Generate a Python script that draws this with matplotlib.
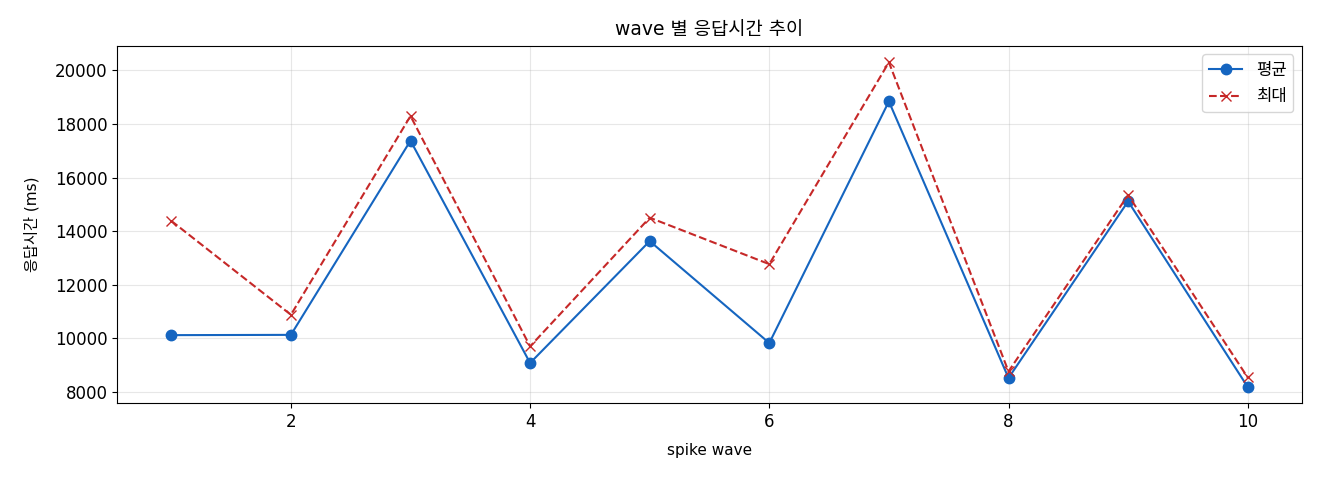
import matplotlib
matplotlib.use("Agg")
import matplotlib.pyplot as plt

plt.rcParams['font.family'] = ['DejaVu Sans', 'Noto Sans CJK KR']

waves = [1, 2, 3, 4, 5, 6, 7, 8, 9, 10]
avg_ms = [10120, 10130, 17380, 9080, 13630, 9825, 18845, 8520, 15115, 8185]
max_ms = [14385, 10880, 18300, 9700, 14505, 12770, 20305, 8765, 15350, 8540]

fig, ax = plt.subplots(figsize=(13.2, 4.8), dpi=100)
ax.plot(waves, avg_ms, marker='o', markersize=7.5, linestyle='-', color='#1565C0', label='평균')
ax.plot(waves, max_ms, marker='x', markersize=7.5, linestyle='--', color='#C62828', label='최대')
ax.set_title('wave 별 응답시간 추이', fontsize=13.5, pad=8)
ax.set_xlabel('spike wave', fontsize=11, labelpad=9)
ax.set_ylabel('응답시간 (ms)', fontsize=11, labelpad=11)
ax.tick_params(labelsize=12)
ax.grid(True, alpha=0.3)
ax.legend(loc='upper right', fontsize=12)
fig.subplots_adjust(left=0.089, right=0.986, top=0.904, bottom=0.16)
fig.savefig('out.png')
